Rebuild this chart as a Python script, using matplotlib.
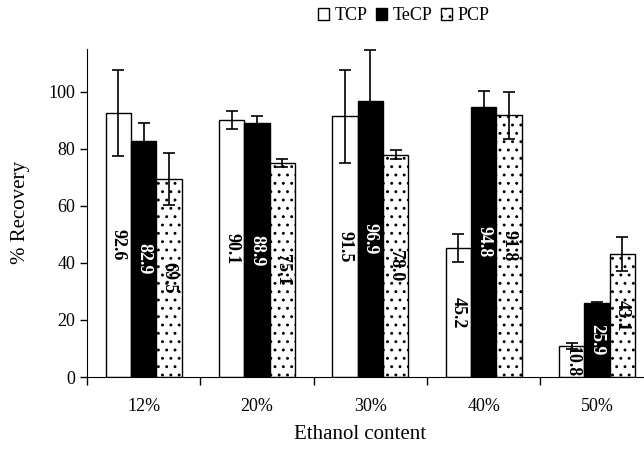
import numpy as np
import matplotlib
matplotlib.use("Agg")
import matplotlib.pyplot as plt
from matplotlib.patches import Patch

plt.rcParams['font.family'] = ['Liberation Serif', 'DejaVu Serif']
plt.rcParams['hatch.linewidth'] = 0.9

# data
categories = ['12%', '20%', '30%', '40%', '50%']
series = ['TCP', 'TeCP', 'PCP']
tcp = [92.6, 90.1, 91.5, 45.2, 10.8]
tecp = [82.9, 88.9, 96.9, 94.8, 25.9]
pcp = [69.5, 75.1, 78.0, 91.8, 43.1]
tcp_err = [15.0, 3.3, 16.3, 5.0, 1.0]
tecp_err = [6.0, 2.6, 17.8, 5.3, 0.5]
pcp_err = [9.2, 1.5, 1.6, 8.2, 5.9]

fig = plt.figure(figsize=(6.44, 4.49), dpi=100)
ax = fig.add_axes([87 / 644, 72 / 449, 566.7 / 644, 328 / 449])

x = np.arange(len(categories))
w = 0.223
styles = [
    dict(facecolor='white', edgecolor='black', hatch=None, txt='black'),
    dict(facecolor='black', edgecolor='black', hatch=None, txt='white'),
    dict(facecolor='white', edgecolor='black', hatch='..', txt='black'),
]
values = [tcp, tecp, pcp]
errs = [tcp_err, tecp_err, pcp_err]

for i, (vals, err, st) in enumerate(zip(values, errs, styles)):
    pos = x + (i - 1) * w
    ax.bar(pos, vals, w, color=st['facecolor'], edgecolor=st['edgecolor'],
           hatch=st['hatch'], linewidth=1.0, zorder=2)
    ax.errorbar(pos, vals, yerr=err, fmt='none', ecolor='black',
                elinewidth=1.2, capsize=4, capthick=1.2, zorder=3)
    for p, v in zip(pos, vals):
        ax.text(p, v / 2, f'{v:.1f}', rotation=-90, ha='center', va='center',
                fontsize=13, fontweight='bold', color=st['txt'], zorder=4)

ax.set_xlim(-0.5, len(categories) - 0.5)
ax.set_ylim(0, 115)
ax.set_yticks([0, 20, 40, 60, 80, 100])
ax.tick_params(axis='y', labelsize=13, direction='out', length=5, width=1)

ax.set_xticks(np.arange(len(categories) + 1) - 0.5)
ax.set_xticklabels([])
ax.set_xticks(x, minor=True)
ax.set_xticklabels(categories, minor=True)
ax.tick_params(axis='x', which='major', direction='out', length=6, width=1)
ax.tick_params(axis='x', which='minor', length=0, labelsize=13, pad=15)

ax.spines['top'].set_visible(False)
ax.spines['right'].set_visible(False)

ax.set_ylabel('% Recovery', fontsize=15)
ax.yaxis.set_label_coords(-0.1, 0.5)
ax.set_xlabel('Ethanol content', fontsize=15)
ax.xaxis.set_label_coords((360 - 87) / 566.7, -0.145)

handles = [Patch(facecolor=st['facecolor'], edgecolor='black', hatch=st['hatch'])
           for st in styles]
fig.legend(handles, series, loc='upper center', bbox_to_anchor=(0.627, 1.02),
           ncol=3, frameon=False, fontsize=13, handlelength=0.6, handleheight=0.6,
           handletextpad=0.3, columnspacing=0.5)

fig.savefig('out.png', dpi=100)
